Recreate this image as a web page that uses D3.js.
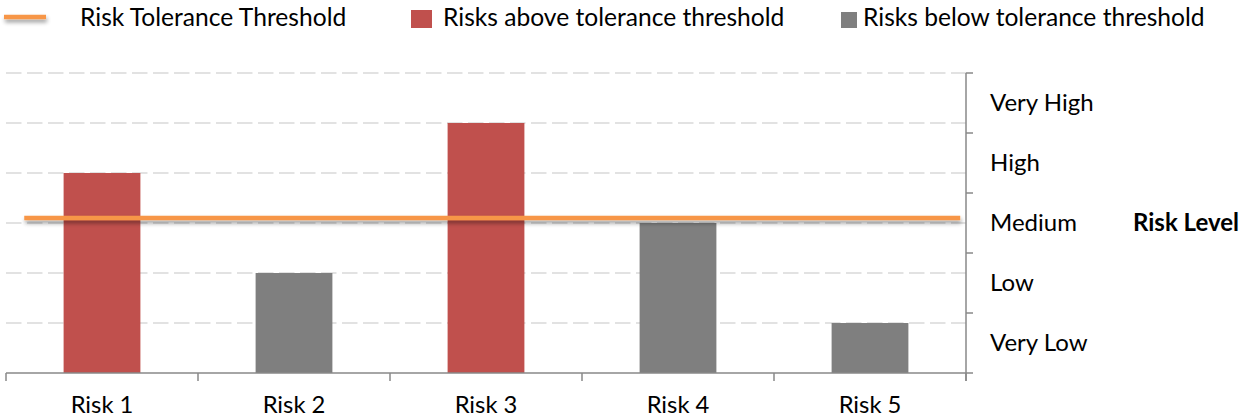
<!DOCTYPE html>
<html><head><meta charset="utf-8">
<script src="https://cdn.jsdelivr.net/npm/d3@7"></script>
<style>body{margin:0;background:#fff}svg{display:block}text{font-family:Lato,"Open Sans",sans-serif;fill:#000}</style>
</head><body><svg id="c" width="1241" height="419"></svg>
<script>
const categories = ["Risk 1","Risk 2","Risk 3","Risk 4","Risk 5"];
const riskValues = [4,2,5,3,1];
const thresholdValue = 3.1;
const thresholdSpan = [0.095, 4.97];
const levelLabels = ["Very Low","Low","Medium","High","Very High"];
const legendLabels = ["Risk Tolerance Threshold","Risks above tolerance threshold","Risks below tolerance threshold"];
const axisTitle = "Risk Level";

const RED="#C0504D", GRAY="#7F7F7F", ORANGE="#F79646", AXIS="#898989", GRID="#D9D9D9";
const svg=d3.select("#c");
const L=6,R=966,T=73,B=373;
const x=d3.scaleBand().domain(categories).range([L,R]).paddingInner(0.6).paddingOuter(0.3);
const xb=d3.scaleBand().domain(categories).range([L,R]);
const xl=d3.scaleLinear().domain([0,categories.length]).range([L,R]);
const y=d3.scaleLinear().domain([0,6]).range([B,T]);
const yLevel=d3.scaleBand().domain(levelLabels).range([B,T]);

const defs=svg.append("defs");
const f=defs.append("filter").attr("id","sh").attr("filterUnits","userSpaceOnUse")
 .attr("x",0).attr("y",0).attr("width",1241).attr("height",419);
f.append("feGaussianBlur").attr("in","SourceAlpha").attr("stdDeviation",2.2);
f.append("feOffset").attr("dx",1).attr("dy",3).attr("result","o");
f.append("feComponentTransfer").append("feFuncA").attr("type","linear").attr("slope",0.4);
const m=f.append("feMerge");m.append("feMergeNode");m.append("feMergeNode").attr("in","SourceGraphic");

// gridlines
svg.append("g").selectAll("line").data(d3.range(1,7)).join("line")
 .attr("x1",L).attr("x2",R).attr("y1",d=>y(d)).attr("y2",d=>y(d))
 .attr("stroke",GRID).attr("stroke-width",1.5).attr("stroke-dasharray","15.5,5.5");

// bars
svg.append("g").selectAll("rect").data(categories).join("rect")
 .attr("x",d=>x(d)).attr("width",x.bandwidth())
 .attr("y",(d,i)=>y(riskValues[i])).attr("height",(d,i)=>B-y(riskValues[i]))
 .attr("fill",(d,i)=>riskValues[i]>thresholdValue?RED:GRAY);

// threshold line
svg.append("line").attr("x1",xl(thresholdSpan[0])).attr("x2",xl(thresholdSpan[1]))
 .attr("y1",y(thresholdValue)).attr("y2",y(thresholdValue))
 .attr("stroke",ORANGE).attr("stroke-width",4.5).attr("filter","url(#sh)");

// x axis
const xa=svg.append("g").attr("transform",`translate(0,${B})`)
 .call(d3.axisBottom(xb).tickSize(0).tickFormat(d=>d));
xa.select(".domain").attr("stroke",AXIS).attr("stroke-width",1.5).attr("d",`M${L},0H${R}`);
xa.selectAll(".tick text").attr("font-size",23.8).attr("font-family","Lato").attr("dy",0).attr("y",40).attr("fill","#000");
xa.selectAll(".bnd").data(d3.range(categories.length+1)).join("line").attr("class","bnd")
 .attr("x1",d=>xl(d)).attr("x2",d=>xl(d)).attr("y1",0).attr("y2",8).attr("stroke",AXIS).attr("stroke-width",1.5);

// right axis
const ra=svg.append("g").attr("transform",`translate(${R},0)`);
ra.append("line").attr("y1",T).attr("y2",B+8).attr("stroke",AXIS).attr("stroke-width",1.5);
ra.selectAll(".tk").data(d3.range(levelLabels.length+1)).join("line").attr("class","tk")
 .attr("x1",0).attr("x2",7).attr("y1",d=>B-d*yLevel.step()).attr("y2",d=>B-d*yLevel.step())
 .attr("stroke",AXIS).attr("stroke-width",1.5);
ra.selectAll("text").data(levelLabels).join("text")
 .attr("x",24).attr("y",d=>yLevel(d)+yLevel.bandwidth()/2+8)
 .attr("font-size",24).text(d=>d);
svg.append("text").attr("x",1133).attr("y",yLevel("Medium")+yLevel.bandwidth()/2+8)
 .attr("font-size",24).attr("font-weight","bold").text(axisTitle);

// legend
const lg=svg.append("g");
lg.append("line").attr("x1",4).attr("x2",46).attr("y1",17).attr("y2",17)
 .attr("stroke",ORANGE).attr("stroke-width",4.5).attr("filter","url(#sh)");
lg.append("text").attr("x",80).attr("y",26).attr("font-size",24.6).text(legendLabels[0]);
lg.append("rect").attr("x",411).attr("y",10).attr("width",21).attr("height",18).attr("fill",RED);
lg.append("text").attr("x",443).attr("y",26).attr("font-size",24.6).text(legendLabels[1]);
lg.append("rect").attr("x",841).attr("y",12).attr("width",16).attr("height",16).attr("fill",GRAY);
lg.append("text").attr("x",863).attr("y",26).attr("font-size",24.6).text(legendLabels[2]);
</script></body></html>
